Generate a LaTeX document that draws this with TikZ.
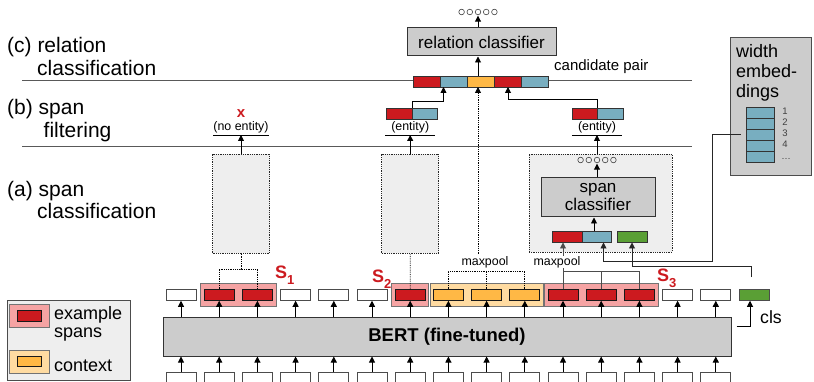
\documentclass[tikz,border=0pt]{standalone}
\usepackage{fontspec}
\setmainfont{Liberation Sans}
\usepackage{tikz}
\usetikzlibrary{arrows.meta,positioning,fit,backgrounds}

\definecolor{spanred}{HTML}{CC1A1F}
\definecolor{widthblue}{HTML}{78AEC0}
\definecolor{ctxorange}{HTML}{FFB845}
\definecolor{clsgreen}{HTML}{5A9F35}
\definecolor{spanpink}{HTML}{F5A3A3}
\definecolor{ctxpale}{HTML}{FFDBA1}
\definecolor{boxgray}{HTML}{CCCCCC}
\definecolor{palegray}{HTML}{EEEEEE}

\tikzset{
  tok/.style={draw=black!70,line width=0.8pt,minimum width=30pt,minimum height=11.5pt,inner sep=0pt,outer sep=0pt},
  wtok/.style={tok,fill=white},
  rtok/.style={tok,draw=black!90,fill=spanred},
  ytok/.style={tok,draw=black!90,fill=ctxorange},
  gtok/.style={tok,fill=clsgreen},
  seg/.style={draw=black!80,line width=0.8pt,minimum height=11pt,inner sep=0pt,outer sep=0pt},
  grp/.style={draw=black!55,line width=0.7pt,inner xsep=3.5pt,inner ysep=5.5pt},
  cbox/.style={draw=black!80,line width=1pt,fill=boxgray,inner sep=0pt},
  dbox/.style={draw=black!85,densely dotted,line width=0.8pt,fill=palegray,inner sep=0pt},
  arr/.style={-{Triangle[length=6pt,width=6pt]},line width=0.9pt},
  link/.style={line width=0.8pt,draw=black!70},
  dlink/.style={line width=0.8pt,densely dotted},
  sect/.style={font=\fontsize{21}{23}\selectfont,inner sep=0pt},
  lbl/.style={font=\fontsize{12.4}{14}\selectfont,inner sep=0pt,outer ysep=2pt},
  slbl/.style={font=\fontsize{18}{18}\selectfont\bfseries,text=spanred,inner sep=0pt},
  dots/.style={draw=black!75,line width=0.6pt},
  sepline/.style={draw=black!65,line width=0.8pt}
}

\begin{document}
\begin{tikzpicture}[x=1pt,y=-1pt]
  \useasboundingbox (0,0) rectangle (814,382);
  \clip (0,0) rectangle (814,382);

  % section labels and dividers
  \node[sect,anchor=base west] (lc1) at (7,53) {(c) relation};
  \node[sect,anchor=base west] (lc2) at (37,76) {classification};
  \node[sect,anchor=base west] (lb1) at (7,115) {(b) span};
  \node[sect,anchor=base west] (lb2) at (43.5,138) {filtering};
  \node[sect,anchor=base west] (la1) at (7,197) {(a) span};
  \node[sect,anchor=base west] (la2) at (37,219) {classification};
  \draw[sepline] (22,80.5) -- (692,80.5);
  \draw[sepline] (22,146.5) -- (692,146.5);

  % BERT and tokens
  \node[cbox,minimum width=568,minimum height=39,font=\fontsize{18.5}{20}\selectfont\bfseries] (bert) at (447,336.5) {BERT (fine-tuned)};
  \foreach \s [count=\i] in {wtok,rtok,rtok,wtok,wtok,wtok,rtok,ytok,ytok,ytok,rtok,rtok,rtok,wtok,wtok,gtok}
    \node[\s] (t\i) at ({181+38.2*(\i-1)},295) {};
  \foreach \i in {1,...,15} {
    \node[wtok,minimum height=14pt] (in\i) at ({181+38.2*(\i-1)},379) {};
    \draw[arr] (t\i |- bert.north) -- (t\i.south);
    \draw[arr] (in\i.north) -- (in\i |- bert.south);
  }
  \begin{scope}[on background layer]
    \node[grp,fill=spanpink,fit=(t2)(t3)] (s1) {};
    \node[grp,fill=spanpink,fit=(t7)] (s2) {};
    \node[grp,fill=ctxpale,fit=(t8)(t10)] (ctx) {};
    \node[grp,fill=spanpink,fit=(t11)(t13)] (s3) {};
  \end{scope}
  \node[slbl,anchor=base west] (s1l) at (275,278) {S\raisebox{-6pt}{\fontsize{13}{13}\selectfont\bfseries 1}};
  \node[slbl,anchor=base west] (s2l) at (372,282) {S\raisebox{-6pt}{\fontsize{13}{13}\selectfont\bfseries 2}};
  \node[slbl,anchor=base west] (s3l) at (657,281) {S\raisebox{-6pt}{\fontsize{13}{13}\selectfont\bfseries 3}};
  \node[anchor=west,font=\fontsize{17.7}{18}\selectfont,inner sep=0pt] (cls) at (760,317) {cls};
  \draw[arr] ([xshift=5pt]bert.east |- 0,326) -| ([xshift=-4pt]t16.south);

  % span classification boxes
  \node[dbox,minimum width=57,minimum height=99] (box1) at (241,203.5) {};
  \node[dbox,minimum width=57,minimum height=99] (box2) at (410.2,203.5) {};
  \node[dbox,minimum width=143,minimum height=98] (box3) at (600.5,203) {};
  \node[cbox,minimum width=114,minimum height=39,align=center,font=\fontsize{17}{18}\selectfont] (sc) at (598,197.5) {span\\classifier};
  \node[minimum width=42,minimum height=7,inner sep=0pt] (sco) at (597,160) {};
  \foreach \k in {-2,...,2}
    \draw[dots] ([xshift={8.2*\k}]sco.center) circle (2.8pt);
  \draw[arr] (sco.south |- sc.north) -- (sco.south);
  \node[seg,fill=spanred,minimum width=30] (pr) at (567,237) {};
  \node[seg,fill=widthblue,minimum width=29,right=0pt of pr] (pb) {};
  \node[seg,fill=clsgreen,minimum width=30] (pg) at (632,237) {};
  \draw[arr] ([xshift=-4pt]sc.south |- pb.north) -- ([xshift=-4pt]sc.south);

  % span pooling
  \coordinate (b1) at (box1.south |- 0,269);
  \draw[dlink] (t2.north) |- (b1) -| (t3.north);
  \draw[dlink] (b1) -- (box1.south);
  \draw[dlink] (t7.north) -- (box2.south);
  \draw[link] (t11.north) -- ++(0,-18) coordinate (m3) -| (t13.north);
  \draw[link] (t12.north) -- (t12.north |- m3);
  \draw[arr,draw=black!70] (m3) -- (m3 |- pr.south);
  \node[lbl,fill=white,inner xsep=1pt,outer ysep=0pt] (mp3) at (557,262) {maxpool};
  \draw[dlink] (t8.north) -- ++(0,-18) coordinate (m2) -| (t10.north);
  \draw[dlink] (t9.north) -- (t9.north |- m2);
  \node[lbl] (mp2) at (485,262) {maxpool};

  % width embeddings
  \node[draw=black!70,fill=boxgray,line width=0.8pt,minimum width=81,minimum height=138,anchor=north west] (wbox) at (730,37) {};
  \node[anchor=north west,align=left,font=\fontsize{18}{20}\selectfont,inner sep=0pt] (wt) at (736,44.5) {width\\embed-\\dings};
  \node[seg,fill=widthblue,minimum width=28] (e1) at (760.5,112.5) {};
  \foreach \i [remember=\i as \j (initially 1)] in {2,3,4,5}
    \node[seg,fill=widthblue,minimum width=28,below=0pt of e\j] (e\i) {};
  \foreach \i in {1,2,3,4}
    \node[font=\fontsize{9.5}{10}\selectfont,text=black!75,inner sep=0pt] (n\i) at (785,{100+11*\i}) {\i};
  \node[font=\fontsize{9.5}{10}\selectfont,text=black!75,inner sep=0pt] (n5) at (786,158.5) {\ldots};
  \coordinate (wk) at (712,261.5);
  \draw[arr,draw=black!85] ([xshift=-6pt]e3.west) -| (wk) -| ([xshift=7pt]pb.south);
  \coordinate (ck) at (751,277);
  \draw[arr,draw=black!85] (ck) -- ++(0,-11) -| (pg.south);

  % span filtering
  \node[lbl,anchor=south] (ne) at (box1.north |- 0,135) {(no entity)};
  \draw[link,draw=black] (ne.south west) -- (ne.south east);
  \node[font=\fontsize{15}{15}\selectfont\bfseries,text=spanred,inner sep=0pt] (nx) at (ne.north |- 0,114) {x};
  \draw[arr] (box1.north) -- (ne.south);
  \node[lbl,anchor=south] (e2) at (box2.north |- 0,135) {(entity)};
  \draw[link,draw=black] ([xshift=-6pt]e2.south west) -- ([xshift=6pt]e2.south east);
  \draw[arr] (box2.north) -- (e2.south);
  \node[seg,fill=spanred,minimum width=26] (p2r) at (399,113.5) {};
  \node[seg,fill=widthblue,minimum width=25,right=0pt of p2r] (p2b) {};
  \node[lbl,anchor=south] (e3) at (597,135) {(entity)};
  \draw[link,draw=black] ([xshift=-6pt]e3.south west) -- ([xshift=6pt]e3.south east);
  \draw[arr] (e3.south |- box3.north) -- (e3.south);
  \node[seg,fill=spanred,minimum width=25] (p3r) at (584.5,113.5) {};
  \node[seg,fill=widthblue,minimum width=26,right=0pt of p3r] (p3b) {};

  % relation classification
  \node[seg,fill=spanred,minimum width=27] (c1) at (427,81.5) {};
  \node[seg,fill=widthblue,minimum width=27,right=0pt of c1] (c2) {};
  \node[seg,fill=ctxorange,minimum width=27,right=0pt of c2] (c3) {};
  \node[seg,fill=spanred,minimum width=27,right=0pt of c3] (c4) {};
  \node[seg,fill=widthblue,minimum width=27,right=0pt of c4] (c5) {};
  \node[anchor=base west,font=\fontsize{15}{16}\selectfont,inner sep=0pt] (cp) at (554,71) {candidate pair};
  \node[cbox,minimum width=149,minimum height=28,font=\fontsize{17}{18}\selectfont] (rc) at (481.5,42) {relation classifier};
  \node[minimum width=42,minimum height=7,inner sep=0pt] (rco) at (478,12) {};
  \foreach \k in {-2,...,2}
    \draw[dots] ([xshift={8.2*\k}]rco.center) circle (2.8pt);
  \draw[arr] (rco.south |- rc.north) -- (rco.south);
  \draw[arr] (rco.south |- c3.north) -- (rco.south |- rc.south);
  \draw[arr] (p2r.north east) -- ++(0,-7) -| ([xshift=3pt]c2.south west);
  \draw[arr] (p3r.north east) -- ++(0,-8.5) -| (c4.south);
  \draw[arr,dlink] ([xshift=-3pt]mp2.north -| c3.south) -- ([xshift=-3pt]c3.south);

  % legend
  \node[draw=black!70,fill=palegray,line width=0.8pt,minimum width=123,minimum height=80,anchor=north west] (leg) at (7,300) {};
  \node[grp,fill=spanpink,minimum width=40,minimum height=23,inner sep=0pt] (lg1) at (29,315.5) {};
  \node[seg,draw=black!90,fill=spanred,minimum width=24] (lg1r) at (lg1) {};
  \node[grp,fill=ctxpale,minimum width=40,minimum height=23,inner sep=0pt] (lg2) at (29,361.5) {};
  \node[seg,draw=black!90,fill=ctxorange,minimum width=24,minimum height=10] (lg2y) at (lg2) {};
  \node[anchor=base west,font=\fontsize{18}{18}\selectfont,inner sep=0pt] (lt1) at (54,319) {example};
  \node[anchor=base west,font=\fontsize{18}{18}\selectfont,inner sep=0pt] (lt2) at (54,337) {spans};
  \node[anchor=base west,font=\fontsize{18}{18}\selectfont,inner sep=0pt] (lt3) at (54,371) {context};
\end{tikzpicture}
\end{document}
